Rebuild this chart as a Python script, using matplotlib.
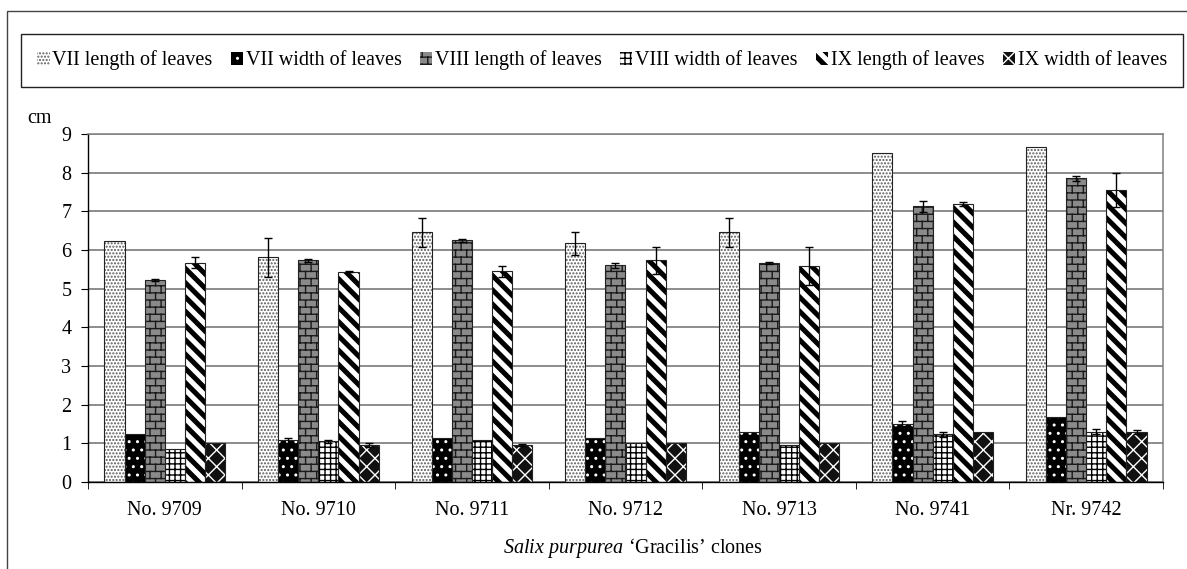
import numpy as np
import matplotlib
matplotlib.use("Agg")
from matplotlib import pyplot as plt
from matplotlib import hatch as mhatch
from matplotlib.patches import Patch, Rectangle
from matplotlib.path import Path

# clones and measured leaf sizes (cm), with standard errors
clones = ["No. 9709", "No. 9710", "No. 9711", "No. 9712", "No. 9713", "No. 9741", "Nr. 9742"]
series_names = ["VII length of leaves", "VII width of leaves", "VIII length of leaves",
                "VIII width of leaves", "IX length of leaves", "IX width of leaves"]

vii_length = [6.24, 5.81, 6.46, 6.17, 6.46, 8.50, 8.66]
vii_length_err = [0.0, 0.51, 0.37, 0.29, 0.37, 0.0, 0.0]
vii_width = [1.23, 1.08, 1.15, 1.15, 1.30, 1.51, 1.67]
vii_width_err = [0.0, 0.07, 0.0, 0.0, 0.0, 0.07, 0.0]
viii_length = [5.23, 5.73, 6.25, 5.60, 5.67, 7.13, 7.85]
viii_length_err = [0.03, 0.03, 0.04, 0.06, 0.03, 0.14, 0.07]
viii_width = [0.86, 1.05, 1.08, 1.01, 0.95, 1.23, 1.30]
viii_width_err = [0.0, 0.03, 0.0, 0.0, 0.0, 0.07, 0.07]
ix_length = [5.67, 5.44, 5.45, 5.73, 5.59, 7.19, 7.55]
ix_length_err = [0.14, 0.02, 0.14, 0.36, 0.50, 0.06, 0.44]
ix_width = [1.01, 0.95, 0.95, 1.01, 1.01, 1.30, 1.30]
ix_width_err = [0.0, 0.05, 0.03, 0.0, 0.0, 0.0, 0.05]

values = [vii_length, vii_width, viii_length, viii_width, ix_length, ix_width]
errors = [vii_length_err, vii_width_err, viii_length_err, viii_width_err, ix_length_err, ix_width_err]

# fill colour, hatch, hatch colour for each series
styles = [("white", ".....", "#5a5a5a"),
          ("black", "..", "white"),
          ("#8a8a8a", "O", "#1a1a1a"),
          ("white", "+++", "black"),
          ("white", "o", "black"),
          ("#111111", "xx", "white")]


# --- extra hatch patterns: 'O' -> brick wall, 'o' -> thick diagonal stripes ---
def brick_path(rows=14, cols=9):
    verts, codes = [], []
    for i in range(rows + 1):
        y = i / rows
        verts += [(0, y), (1, y)]
        codes += [Path.MOVETO, Path.LINETO]
    for i in range(rows):
        shift = 0.5 * (i % 2)
        for j in range(cols + 1):
            x = (j + shift) / cols
            verts += [(x, i / rows), (x, (i + 1) / rows)]
            codes += [Path.MOVETO, Path.LINETO]
    return Path(verts, codes)


def stripe_path(n=7, frac=0.36):
    verts, codes = [], []
    for k in range(-2, 2 * n + 2):
        c0 = k / n
        c1 = c0 + frac / n
        verts += [(-1, c0 + 1), (2, c0 - 2), (2, c1 - 2), (-1, c1 + 1), (0, 0)]
        codes += [Path.MOVETO, Path.LINETO, Path.LINETO, Path.LINETO, Path.CLOSEPOLY]
    return Path(verts, codes)


CUSTOM_HATCHES = {"O": brick_path(), "o": stripe_path()}
_default_get_path = mhatch.get_path


def get_path(hatchpattern, density=6):
    if hatchpattern in CUSTOM_HATCHES:
        return CUSTOM_HATCHES[hatchpattern]
    return _default_get_path(hatchpattern, density)


mhatch.get_path = get_path

plt.rcParams["font.family"] = ["Liberation Serif", "DejaVu Serif"]
plt.rcParams["font.size"] = 14.5
plt.rcParams["mathtext.fontset"] = "custom"
plt.rcParams["mathtext.rm"] = "Liberation Serif"
plt.rcParams["mathtext.it"] = "Liberation Serif:italic"
plt.rcParams["hatch.linewidth"] = 1.0

W, H = 1187, 569
fig = plt.figure(figsize=(W / 100, H / 100), dpi=100)
ax = fig.add_axes([88 / W, 1 - 482 / H, (1163 - 88) / W, (482 - 134) / H])

x = np.arange(len(clones))
width = 0.131
handles = []
for i, (vals, errs) in enumerate(zip(values, errors)):
    face, hatch, hcolor = styles[i]
    pos = x + (i - 2.5) * width
    ax.bar(pos, vals, width, color=face, edgecolor=hcolor, hatch=hatch, linewidth=0, zorder=2)
    ax.bar(pos, vals, width, fill=False, edgecolor="#222222", linewidth=0.8, zorder=3)
    errs = np.array(errs)
    keep = errs > 0
    ax.errorbar(pos[keep], np.array(vals)[keep], yerr=errs[keep], fmt="none",
                ecolor="black", elinewidth=1, capsize=3, capthick=1, zorder=4)
    handles.append(Patch(facecolor=face, edgecolor=hcolor, hatch=hatch, linewidth=0))

ax.set_xlim(-0.5, len(clones) - 0.5)
ax.set_ylim(0, 9)
ax.set_yticks(range(10))
ax.set_xticks(x)
ax.set_xticklabels(clones)
ax.set_xticks(np.arange(len(clones) + 1) - 0.5, minor=True)
ax.tick_params(axis="x", which="major", length=0, pad=14)
ax.tick_params(axis="x", which="minor", length=5, direction="out", color="black")
ax.tick_params(axis="y", length=5, direction="out", pad=7, color="black")

ax.set_axisbelow(True)
ax.yaxis.grid(True, color="#6e6e6e", linewidth=1.1)
for side in ["left", "bottom"]:
    ax.spines[side].set_color("black")
    ax.spines[side].set_linewidth(1.0)
for side in ["top", "right"]:
    ax.spines[side].set_color("#808080")
    ax.spines[side].set_linewidth(1.1)

fig.text(27 / W, 1 - 118 / H, "cm", ha="left", va="center")
fig.text(633 / W, 1 - 548 / H, r"$\it{Salix\ purpurea}$ ‘Gracilis’ clones", ha="center", va="center")

leg = fig.legend(handles, series_names, loc="center", ncol=6, mode="expand",
                 bbox_to_anchor=(21 / W, 1 - 86 / H, (1183 - 21) / W, 51 / H),
                 bbox_transform=fig.transFigure, fancybox=False, framealpha=1,
                 edgecolor="#222222", handlelength=0.62, handleheight=0.62,
                 handletextpad=0.12, borderpad=0.8, borderaxespad=0)
leg.get_frame().set_linewidth(1.0)

# outer border of the whole chart
fig.patches.append(Rectangle((7 / W, -0.1), 1.2, 0.1 + 558 / H, transform=fig.transFigure,
                             fill=False, edgecolor="#444444", linewidth=1.0))

fig.savefig("out.png", dpi=100)
